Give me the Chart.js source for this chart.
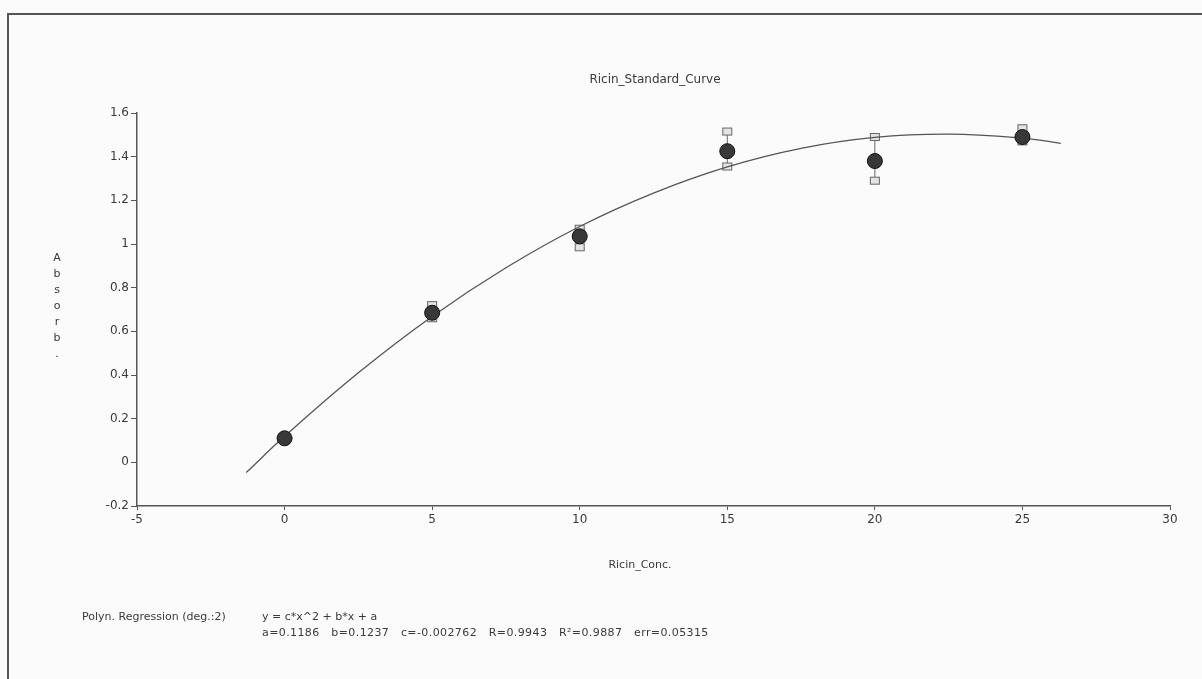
<!DOCTYPE html>
<html>
<head>
<meta charset="utf-8">
<script src="https://cdn.jsdelivr.net/npm/chart.js@4/dist/chart.umd.min.js"></script>
<style>
  html, body { margin: 0; padding: 0; background: #fbfbfb; }
  canvas { display: block; }
</style>
</head>
<body>
<canvas id="chart" width="1202" height="679"></canvas>
<script>
const conc = [0, 5, 10, 15, 20, 25];
const absorb = [0.11, 0.685, 1.035, 1.425, 1.38, 1.49];
const errHigh = [0.11, 0.72, 1.07, 1.515, 1.49, 1.53];
const errLow = [0.11, 0.66, 0.985, 1.355, 1.29, 1.47];

// fitted curve
const curveX = [-1.3, 0, 2.5, 5, 7.5, 10, 12.5, 15, 17.5, 20, 22.5, 25, 26.3];
const curveY = [-0.047, 0.119, 0.41, 0.668, 0.891, 1.08, 1.233, 1.353, 1.438, 1.488, 1.503, 1.485, 1.461];

const xTicks = [-5, 0, 5, 10, 15, 20, 25, 30];
const yTicks = [-0.2, 0, 0.2, 0.4, 0.6, 0.8, 1, 1.2, 1.4, 1.6];

const chartTitle = 'Ricin_Standard_Curve';
const xTitle = 'Ricin_Conc.';
const yTitle = ['A', 'b', 's', 'o', 'r', 'b', '.'];
const fitName = 'Polyn. Regression (deg.:2)';
const fitFormula = 'y = c*x^2 + b*x + a';
const fitParams = ['a=0.1186', 'b=0.1237', 'c=-0.002762', 'R=0.9943', 'R\u00b2=0.9887', 'err=0.05315'];

const FONT = '"DejaVu Sans", sans-serif';
const textColor = '#3a3a3a';

const errorBars = {
  id: 'errorBars',
  beforeDatasetsDraw(chart) {
    const { ctx, scales: { x, y } } = chart;
    ctx.save();
    ctx.strokeStyle = '#666';
    ctx.lineWidth = 1;
    conc.forEach((c, i) => {
      if (errHigh[i] === errLow[i]) return;
      const px = x.getPixelForValue(c);
      const top = y.getPixelForValue(errHigh[i]);
      const bot = y.getPixelForValue(errLow[i]);
      ctx.beginPath();
      ctx.moveTo(px, top);
      ctx.lineTo(px, bot);
      ctx.stroke();
      [top, bot].forEach(py => {
        ctx.fillStyle = '#e4e4e4';
        ctx.fillRect(px - 4.5, py - 3.5, 9, 7);
        ctx.strokeRect(px - 4.5, py - 3.5, 9, 7);
      });
    });
    ctx.restore();
  }
};

const decorations = {
  id: 'decorations',
  beforeDraw(chart) {
    const { ctx } = chart;
    ctx.save();
    ctx.fillStyle = '#fbfbfb';
    ctx.fillRect(0, 0, chart.width, chart.height);
    ctx.strokeStyle = '#555';
    ctx.lineWidth = 2;
    ctx.beginPath();
    ctx.moveTo(8, 679);
    ctx.lineTo(8, 14);
    ctx.lineTo(1202, 14);
    ctx.stroke();
    ctx.restore();
  },
  afterDraw(chart) {
    const { ctx } = chart;
    ctx.save();
    ctx.fillStyle = textColor;
    ctx.textBaseline = 'middle';
    ctx.textAlign = 'center';
    ctx.font = '12px ' + FONT;
    ctx.fillText(chartTitle, 655, 80);
    ctx.font = '11px ' + FONT;
    ctx.fillText(xTitle, 640, 565);
    yTitle.forEach((ch, i) => ctx.fillText(ch, 57, 258 + i * 16));
    ctx.textAlign = 'left';
    ctx.fillText(fitName, 82, 617);
    ctx.fillText(fitFormula, 262, 617);
    ctx.letterSpacing = '0.4px';
    ctx.fillText(fitParams.join('   '), 262, 633);
    ctx.restore();
  }
};

new Chart('chart', {
  type: 'scatter',
  data: {
    datasets: [
      {
        type: 'line',
        data: curveX.map((v, i) => ({ x: v, y: curveY[i] })),
        borderColor: '#555',
        borderWidth: 1.3,
        pointRadius: 0,
        tension: 0.4,
        fill: false,
        order: 2
      },
      {
        data: conc.map((v, i) => ({ x: v, y: absorb[i] })),
        backgroundColor: '#383838',
        borderColor: '#111',
        borderWidth: 1,
        pointRadius: 7.5,
        order: 1
      }
    ]
  },
  options: {
    responsive: false,
    animation: false,
    layout: { padding: { left: 77, right: 32, top: 113, bottom: 133 } },
    plugins: {
      legend: { display: false },
      tooltip: { enabled: false },
      title: { display: false }
    },
    scales: {
      x: {
        type: 'linear',
        min: -5,
        max: 30,
        afterFit(scale) { scale.height = 40; },
        afterBuildTicks(scale) { scale.ticks = xTicks.map(v => ({ value: v })); },
        ticks: { color: textColor, font: { family: FONT, size: 12 }, padding: 3 },
        grid: { drawOnChartArea: false, drawTicks: true, tickLength: 4, color: '#555' },
        border: { color: '#555', width: 1.5 }
      },
      y: {
        type: 'linear',
        min: -0.2,
        max: 1.6,
        afterFit(scale) { scale.width = 60; },
        afterBuildTicks(scale) { scale.ticks = yTicks.map(v => ({ value: v })); },
        ticks: {
          color: textColor,
          font: { family: FONT, size: 12 },
          padding: 2,
          callback: v => String(Math.round(v * 10) / 10)
        },
        grid: { drawOnChartArea: false, drawTicks: true, tickLength: 6, color: '#555' },
        border: { color: '#555', width: 1.5 }
      }
    }
  },
  plugins: [decorations, errorBars]
});
</script>
</body>
</html>
